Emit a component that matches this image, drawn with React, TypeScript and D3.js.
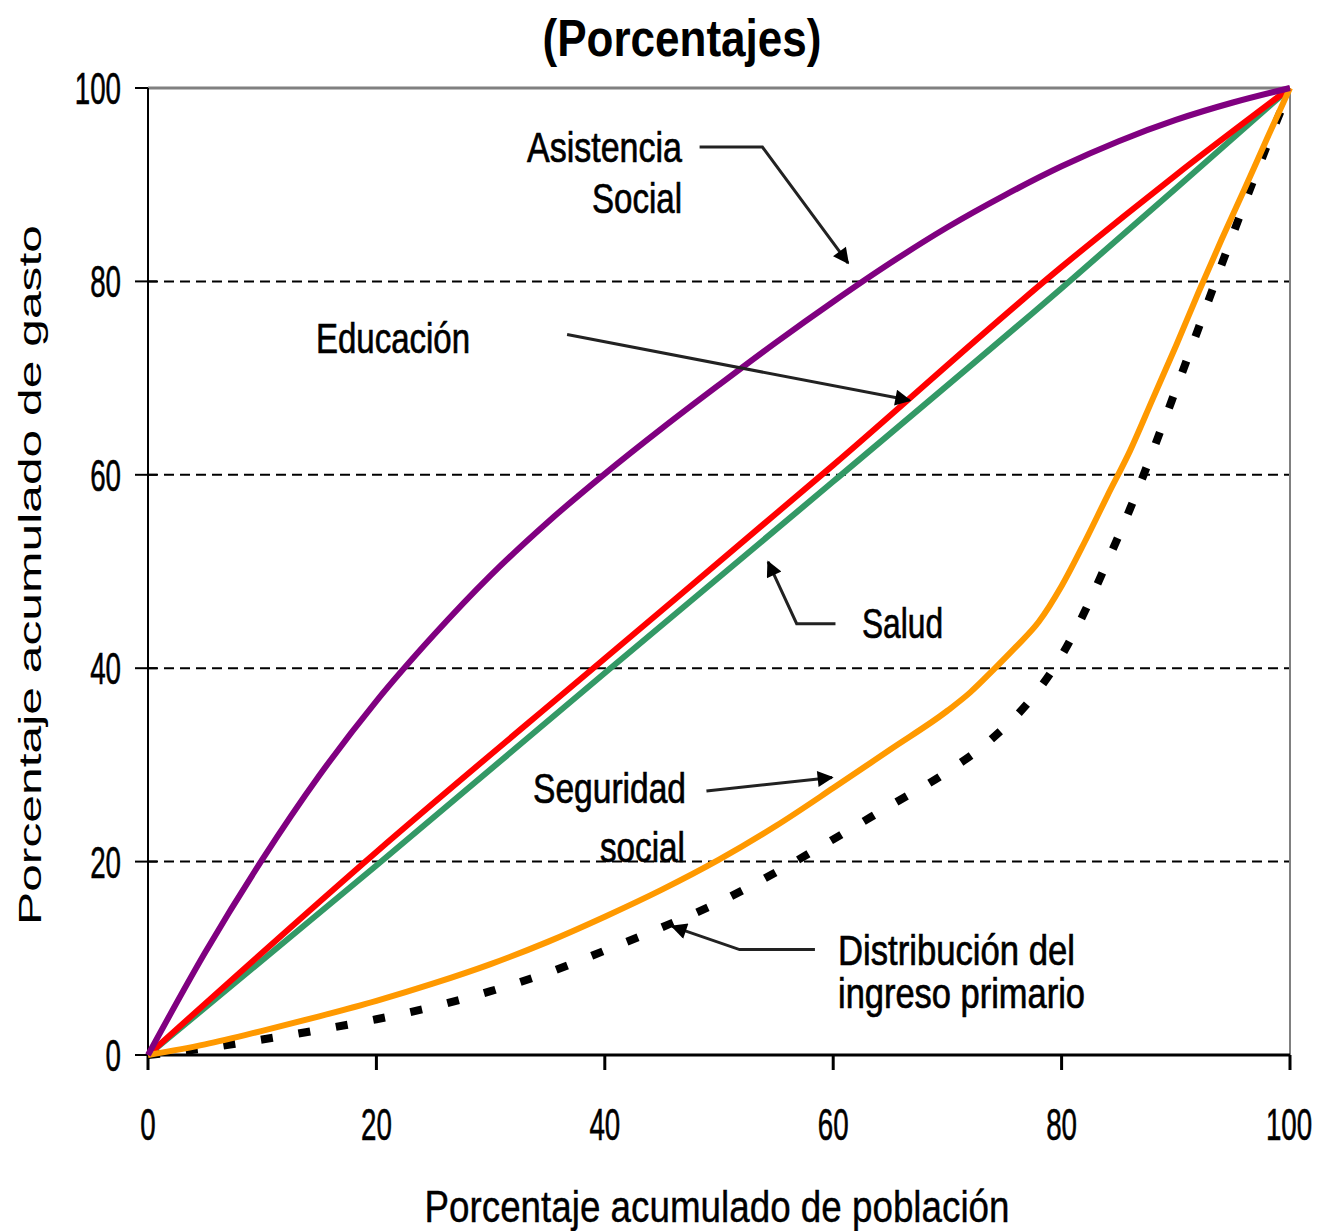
import * as d3 from "d3";

// chart values (percent of population vs. percent of spending)
const xTicks = [0, 20, 40, 60, 80, 100];
const yTicks = [0, 20, 40, 60, 80, 100];
const gridValues = [20, 40, 60, 80];

const asistenciaSocial: [number, number][] = [
  [0, 0], [5, 10.6], [10, 20.2], [15, 28.9], [20, 36.6], [25, 43.4], [30, 49.6],
  [35, 55.1], [40, 60.1], [45, 64.8], [50, 69.3], [55, 73.7], [60, 77.9],
  [65, 81.9], [70, 85.6], [75, 88.9], [80, 91.9], [85, 94.5], [90, 96.7],
  [95, 98.5], [100, 100]
];

const educacion: [number, number][] = [
  [0, 0], [20, 21], [40, 41], [60, 61], [80, 81.5], [90, 91], [100, 100]
];

const salud: [number, number][] = [
  [0, 0], [20, 19.6], [40, 39.5], [60, 59.3], [80, 79.3], [90, 89.6], [100, 100]
];

const seguridadSocial: [number, number][] = [
  [0, 0], [5, 1.1], [10, 2.5], [15, 4], [20, 5.6], [25, 7.4], [30, 9.4],
  [35, 11.7], [40, 14.3], [45, 17.1], [50, 20.2], [55, 23.7], [60, 27.6],
  [65, 31.6], [70, 35.6], [72, 37.5], [74, 39.8], [76, 42.2], [78, 44.8],
  [80, 48.5], [82, 53], [84, 57.8], [86, 62.5], [88, 67.9], [90, 73.3],
  [92, 78.9], [94, 84.3], [96, 89.5], [98, 94.8], [100, 100]
];

const ingresoPrimario: [number, number][] = [
  [0, 0], [5, 0.7], [10, 1.6], [15, 2.6], [20, 3.7], [25, 5], [30, 6.6],
  [35, 8.5], [40, 10.8], [45, 13.2], [50, 15.8], [55, 18.9], [60, 22.3],
  [65, 25.8], [70, 29.3], [74, 32.8], [78, 37.8], [80, 41.3], [82, 45.8],
  [84, 51], [86, 56.5], [88, 62.5], [90, 68.8], [92, 75.2], [94, 81.7],
  [96, 88], [98, 94.1], [100, 100]
];

// annotation arrows, in data units
const arrowAsistencia: [number, number][] = [[48.3, 93.9], [53.8, 93.9], [61.3, 81.9]];
const arrowEducacion: [number, number][] = [[36.7, 74.5], [66.7, 67.7]];
const arrowSalud: [number, number][] = [[60.2, 44.6], [56.8, 44.6], [54.3, 51]];
const arrowSeguridad: [number, number][] = [[48.9, 27.3], [59.9, 28.7]];
const arrowIngreso: [number, number][] = [[58.4, 10.9], [51.8, 10.9], [45.9, 13.3]];

const W = 1319;
const H = 1231;
const margin = { top: 88, right: 29, bottom: 176, left: 148 };
const innerW = W - margin.left - margin.right;
const innerH = H - margin.top - margin.bottom;

const font = "'Liberation Sans', Arial, sans-serif";
const tickSquash = 0.63;

export default function App() {
  const x = d3.scaleLinear().domain([0, 100]).range([margin.left, margin.left + innerW]);
  const y = d3.scaleLinear().domain([0, 100]).range([margin.top + innerH, margin.top]);

  const line = d3
    .line<[number, number]>()
    .x(d => x(d[0]))
    .y(d => y(d[1]))
    .curve(d3.curveMonotoneX);

  const straight = d3
    .line<[number, number]>()
    .x(d => x(d[0]))
    .y(d => y(d[1]));

  const series = [
    { name: "Distribución del ingreso primario", data: ingresoPrimario, color: "#000", width: 8, dash: "12 26" },
    { name: "Salud", data: salud, color: "#339966", width: 6, dash: null },
    { name: "Educación", data: educacion, color: "#ff0000", width: 6, dash: null },
    { name: "Seguridad social", data: seguridadSocial, color: "#ff9900", width: 6, dash: null },
    { name: "Asistencia Social", data: asistenciaSocial, color: "#800080", width: 6, dash: null }
  ];

  const arrows = [arrowAsistencia, arrowEducacion, arrowSalud, arrowSeguridad, arrowIngreso];

  const labels = [
    { text: "Asistencia", x: 527, y: 162, len: 155 },
    { text: "Social", x: 592, y: 213, len: 90 },
    { text: "Educación", x: 316, y: 353, len: 154 },
    { text: "Salud", x: 862, y: 638, len: 81 },
    { text: "Seguridad", x: 533, y: 803, len: 153 },
    { text: "social", x: 600, y: 862, len: 85 },
    { text: "Distribución del", x: 838, y: 965, len: 237 },
    { text: "ingreso primario", x: 838, y: 1008, len: 247 }
  ];

  const x0 = x(0), x1 = x(100), y0 = y(0), y1 = y(100);

  return (
    <svg
      width={W}
      height={H}
      style={{ position: "absolute", left: 0, top: 0, background: "#fff" }}
      fontFamily={font}
    >
      <defs>
        <marker
          id="arrow"
          viewBox="0 0 10 10"
          refX={9}
          refY={5}
          markerUnits="userSpaceOnUse"
          markerWidth={20}
          markerHeight={16}
          orient="auto"
        >
          <path d="M0,0 L10,5 L0,10 z" fill="#000" />
        </marker>
      </defs>

      {/* title */}
      <text
        x={682}
        y={56}
        textAnchor="middle"
        fontSize={52}
        fontWeight="bold"
        textLength={279}
        lengthAdjust="spacingAndGlyphs"
      >
        (Porcentajes)
      </text>

      {/* grid */}
      {gridValues.map(v => (
        <line
          key={v}
          x1={x0}
          x2={x1}
          y1={y(v)}
          y2={y(v)}
          stroke="#000"
          strokeWidth={2}
          strokeDasharray="10 6"
        />
      ))}

      {/* frame */}
      <line x1={x0} x2={x1} y1={y1} y2={y1} stroke="#808080" strokeWidth={3} />
      <line x1={x1} x2={x1} y1={y1} y2={y0} stroke="#808080" strokeWidth={2} />
      <line x1={x0} x2={x0} y1={y1} y2={y0} stroke="#000" strokeWidth={2} />
      <line x1={x0} x2={x1} y1={y0} y2={y0} stroke="#000" strokeWidth={3} />

      {/* y ticks */}
      {yTicks.map(v => (
        <g key={v}>
          <line x1={x0 - 13} x2={x0 + (v === 0 || v === 100 ? 0 : 9)} y1={y(v)} y2={y(v)} stroke="#000" strokeWidth={2} />
          <text
            transform={`translate(121,${y(v) + 16}) scale(${tickSquash},1)`}
            textAnchor="end"
            fontSize={44}
            stroke="#000"
            strokeWidth={0.6}
          >
            {v}
          </text>
        </g>
      ))}

      {/* x ticks */}
      {xTicks.map(v => (
        <g key={v}>
          <line x1={x(v)} x2={x(v)} y1={y0} y2={y0 + 15} stroke="#000" strokeWidth={3} />
          <text
            transform={`translate(${v === 100 ? x(v) - 1 : x(v)},1140) scale(${tickSquash},1)`}
            textAnchor="middle"
            fontSize={44}
            stroke="#000"
            strokeWidth={0.6}
          >
            {v}
          </text>
        </g>
      ))}

      {/* axis titles */}
      <text
        x={717}
        y={1222}
        textAnchor="middle"
        fontSize={44}
        stroke="#000"
        strokeWidth={0.4}
        textLength={585}
        lengthAdjust="spacingAndGlyphs"
      >
        Porcentaje acumulado de población
      </text>
      <text
        transform="translate(41,575) rotate(-90)"
        textAnchor="middle"
        fontSize={32}
        textLength={700}
        lengthAdjust="spacingAndGlyphs"
      >
        Porcentaje acumulado de gasto
      </text>

      {/* series */}
      {series.map(s => (
        <path
          key={s.name}
          d={line(s.data) ?? ""}
          fill="none"
          stroke={s.color}
          strokeWidth={s.width}
          strokeDasharray={s.dash ?? undefined}
          strokeLinejoin="round"
        />
      ))}

      {/* annotation arrows */}
      {arrows.map((a, i) => (
        <path
          key={i}
          d={straight(a) ?? ""}
          fill="none"
          stroke="#222"
          strokeWidth={3}
          markerEnd="url(#arrow)"
        />
      ))}

      {/* annotation labels */}
      {labels.map(l => (
        <text
          key={l.text}
          x={l.x}
          y={l.y}
          fontSize={42}
          stroke="#000"
          strokeWidth={0.7}
          textLength={l.len}
          lengthAdjust="spacingAndGlyphs"
        >
          {l.text}
        </text>
      ))}
    </svg>
  );
}
